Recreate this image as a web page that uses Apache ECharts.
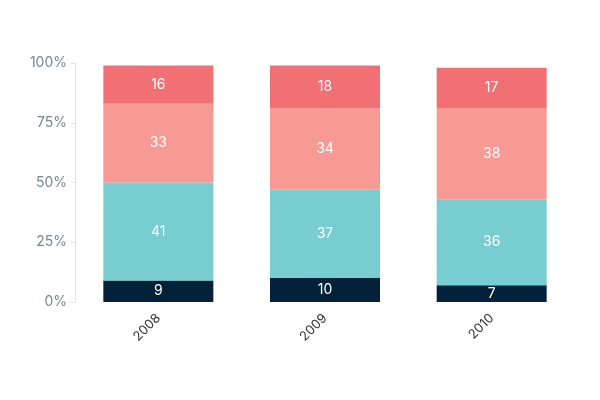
<!DOCTYPE html>
<html><head><meta charset="utf-8">
<script src="https://cdn.jsdelivr.net/npm/echarts@6/dist/echarts.min.js"></script>
<style>html,body{margin:0;padding:0;background:#fff}#c{width:600px;height:400px}</style>
</head><body><div id="c"></div>
<script>
const categories = ['2008','2009','2010'];
const s1 = [9,10,7];
const s2 = [41,37,36];
const s3 = [33,34,38];
const s4 = [16,18,17];
const yTicks = [0,25,50,75,100];
const colors = ['#03223a','#78cdd0','#f79a94','#f07073'];
const chart = echarts.init(document.getElementById('c'));
const mk = (d,i)=>({type:'bar',stack:'a',data:d,barCategoryGap:'34%',itemStyle:{color:colors[i]},
  label:{show:true,color:'#fff',fontSize:14,fontFamily:'Inter'}});
chart.setOption({
  animation:false,
  grid:{left:75,right:25,top:63,bottom:98},
  xAxis:{type:'category',data:categories,axisLine:{show:false},axisTick:{show:false},
    axisLabel:{rotate:45,color:'#333',fontSize:13,fontFamily:'Inter',margin:14}},
  yAxis:{type:'value',min:0,max:100,interval:25,splitLine:{show:false},
    axisLine:{show:true,lineStyle:{color:'#e0e3e8'}},axisTick:{show:true,length:4,lineStyle:{color:'#e0e3e8'}},
    axisLabel:{color:'#7a8497',fontSize:14,fontFamily:'Inter',formatter:v=>yTicks.includes(v)?v+'%':''}},
  series:[mk(s1,0),mk(s2,1),mk(s3,2),mk(s4,3)]
});
</script></body></html>
